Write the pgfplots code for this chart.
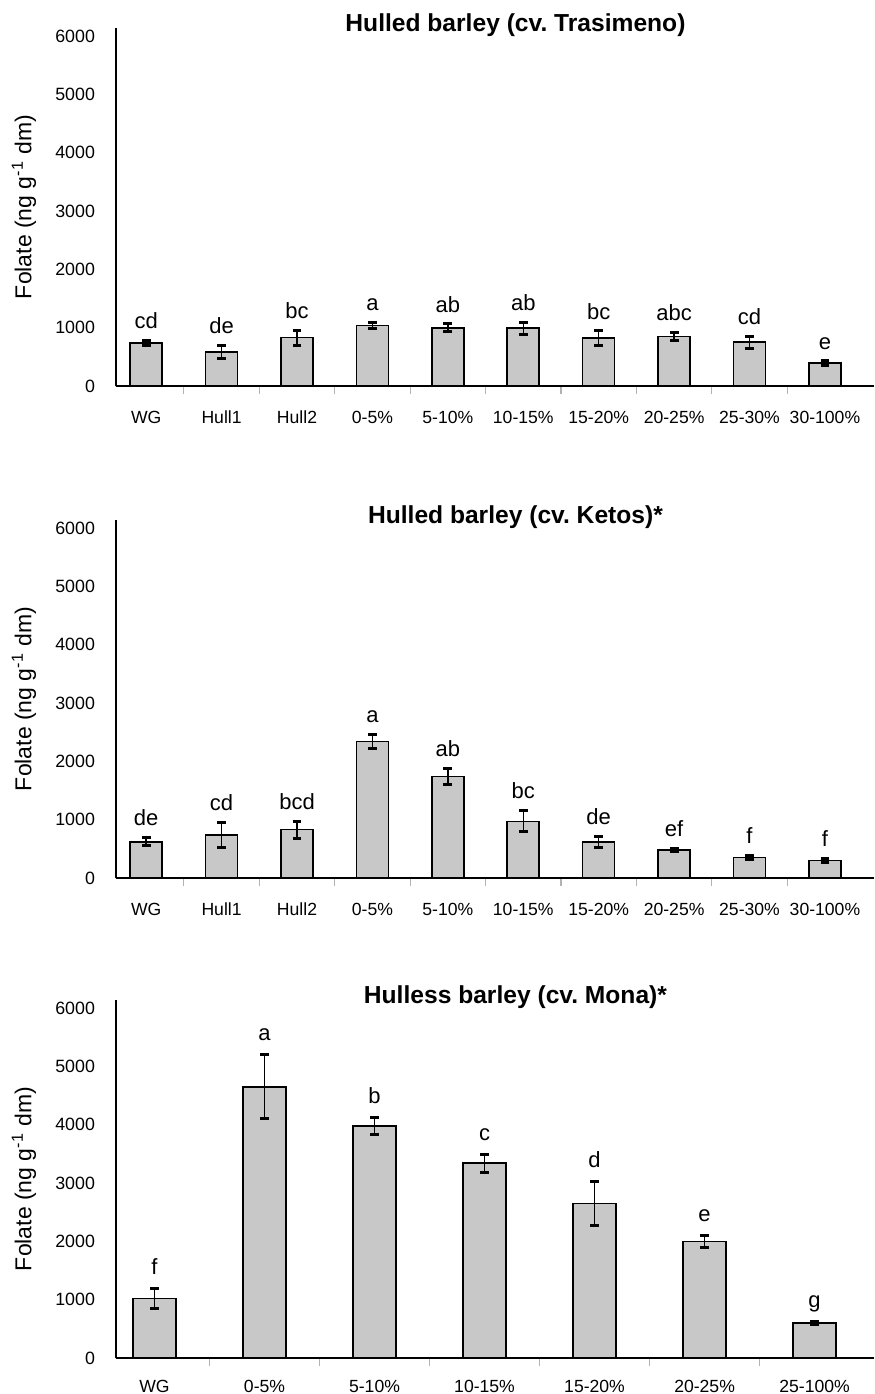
\documentclass[border=0pt]{standalone}
\usepackage{fontspec}
\setmainfont{Liberation Sans}
\usepackage{pgfplots}
\usepackage{pgfplotstable}
\pgfplotsset{compat=1.18}
\definecolor{barfill}{RGB}{200,200,200}

\pgfplotstableread{
x y err lab
0 740 40 cd
1 580 115 de
2 830 130 bc
3 1040 50 a
4 1000 70 ab
5 990 100 ab
6 820 125 bc
7 850 75 abc
8 750 100 cd
9 390 40 e
}\tabA

\pgfplotstableread{
x y err lab
0 620 70 de
1 740 215 cd
2 830 145 bcd
3 2340 115 a
4 1740 130 ab
5 970 180 bc
6 620 95 de
7 480 25 ef
8 350 30 f
9 300 30 f
}\tabB

\pgfplotstableread{
x y err lab
0 1020 170 f
1 4650 550 a
2 3980 140 b
3 3340 155 c
4 2650 380 d
5 2000 100 e
6 600 20 g
}\tabC

\pgfplotsset{
  panel/.style={
    scale only axis, width=379pt, height=179pt,
    anchor=south west,
    ymin=0, ymax=6140, ytick={0,1000,...,6000},
    axis x line*=bottom, axis y line*=left,
    axis line style={line width=1.4pt},
    tick align=outside, major tick length=0pt, minor tick length=4pt,
    minor x tick num=1,
    every minor tick/.append style={black!30, line width=0.6pt},
    yticklabel style={font=\fontsize{8.9}{10}\selectfont, xshift=-7pt},
    xticklabel style={font=\fontsize{8.8}{10}\selectfont, text height=6.3pt, text depth=1.7pt, yshift=-9.1pt},
    /pgf/number format/1000 sep={},
    /pgf/number format/assume math mode=true,
    ylabel={Folate (ng g\textsuperscript{-1} dm)},
    ylabel style={at={(axis description cs:-0.1214,0.5)}, anchor=center, font=\fontsize{11.5}{13}\selectfont},
    title style={at={(axis description cs:0.527,1)}, anchor=base, yshift=-7.5pt, font=\bfseries\fontsize{12.3}{14}\selectfont},
    clip=false,
  },
  bars/.style={ybar, fill=barfill, draw=black, line width=0.8pt, bar width=#1,
    error bars/.cd, y dir=both, y explicit,
    error bar style={line width=0.7pt, black},
    error mark options={rotate=90, line width=1.5pt, mark size=2.2pt, black}},
  letters/.style={draw=none, mark=none, nodes near coords, point meta=explicit symbolic,
    nodes near coords style={anchor=base, yshift=#1, font=\fontsize{11}{12}\selectfont, text=black}},
}

\begin{document}
\frenchspacing
\begin{tikzpicture}
\useasboundingbox (0,0) rectangle (437pt,-697pt);

\begin{axis}[panel, at={(58pt,-193pt)}, xmin=-0.40, xmax=9.65,
  xtick={0,...,9},
  xticklabels={WG,Hull1,Hull2,0-5\%,5-10\%,10-15\%,15-20\%,20-25\%,25-30\%,30-100\%},
  title={Hulled barley (cv. Trasimeno)}]
\addplot[bars=16pt] table[x=x, y=y, y error=err]{\tabA};
\addplot[letters=5.8pt] table[x=x, y expr=\thisrow{y}+\thisrow{err}, meta=lab]{\tabA};
\end{axis}

\begin{axis}[panel, at={(58pt,-439pt)}, xmin=-0.40, xmax=9.65,
  xtick={0,...,9},
  xticklabels={WG,Hull1,Hull2,0-5\%,5-10\%,10-15\%,15-20\%,20-25\%,25-30\%,30-100\%},
  title={Hulled barley (cv. Ketos)*}]
\addplot[bars=16pt] table[x=x, y=y, y error=err]{\tabB};
\addplot[letters=6pt] table[x=x, y expr=\thisrow{y}+\thisrow{err}, meta=lab]{\tabB};
\end{axis}

\begin{axis}[panel, at={(58pt,-679pt)}, xmin=-0.35, xmax=6.54,
  xtick={0,...,6},
  xticklabels={WG,0-5\%,5-10\%,10-15\%,15-20\%,20-25\%,25-100\%},
  xticklabel style={yshift=1.9pt, text depth=0.2pt},
  title={Hulless barley (cv. Mona)*}]
\addplot[bars=21.5pt] table[x=x, y=y, y error=err]{\tabC};
\addplot[letters=7pt] table[x=x, y expr=\thisrow{y}+\thisrow{err}, meta=lab]{\tabC};
\end{axis}
\end{tikzpicture}
\end{document}
